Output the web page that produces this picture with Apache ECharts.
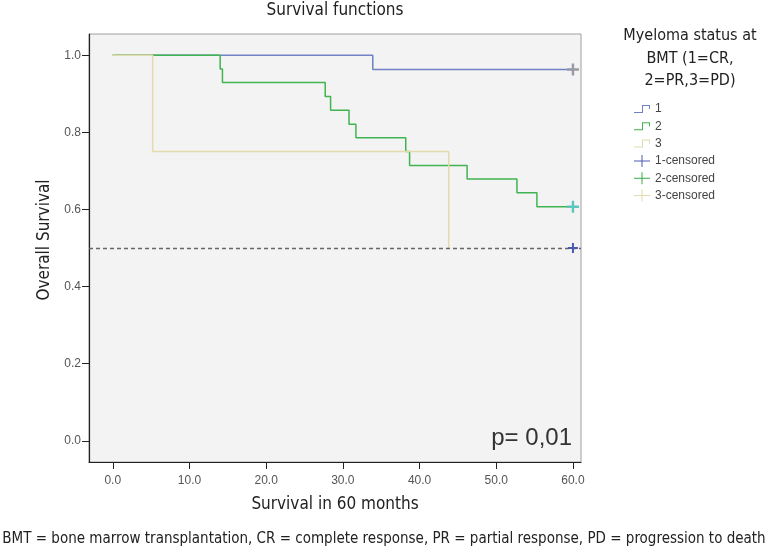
<!DOCTYPE html>
<html>
<head>
<meta charset="utf-8">
<script src="https://cdn.jsdelivr.net/npm/echarts@6/dist/echarts.min.js"></script>
<style>html,body{margin:0;padding:0;background:#fff}#c{width:768px;height:555px}</style>
</head>
<body>
<div id="c"></div>
<script>
// Kaplan-Meier step data (time in months, survival)
const g1Times = [0, 33.9, 60];
const g1Surv  = [1, 0.963, 0.963];
const g2Times = [0, 14.0, 14.3, 27.7, 28.4, 30.8, 31.7, 38.2, 38.7, 46.2, 52.7, 55.3, 60];
const g2Surv  = [1, 0.964, 0.929, 0.893, 0.857, 0.821, 0.786, 0.75, 0.714, 0.679, 0.643, 0.607, 0.607];
const g3Times = [0, 5.2, 43.8];
const g3Surv  = [1, 0.75, 0.5];
const cens1 = [[60, 0.963], [60, 0.5]];
const cens2 = [[60, 0.607]];
const cens3 = [];
const xTicks = [0, 10, 20, 30, 40, 50, 60];
const yTicks = [0, 0.2, 0.4, 0.6, 0.8, 1.0];
const refLevel = 0.5;

const zip = (t, s) => t.map((v, i) => [v, s[i]]);
const FONT = '"Liberation Sans Narrow","DejaVu Sans Condensed","Roboto",sans-serif';
const cross = 'path://M4,0H6V4H10V6H6V10H4V6H0V4H4Z';
const stepIcon = 'path://M0,7H8V0H16V4H15V1H9V8H0Z';
const crossIcon = 'path://M0,5.5H7.5V0H8.5V5.5H16V6.5H8.5V12H7.5V6.5H0Z';

const chart = echarts.init(document.getElementById('c'));
chart.setOption({
  animation: false,
  grid: { left: 89, right: 187, top: 34, bottom: 93, show: true, backgroundColor: '#f3f3f3', borderColor: '#a0a0a0', borderWidth: 1 },
  xAxis: {
    type: 'value', min: -3.1, max: 61.05,
    axisLine: { show: true, onZero: false, lineStyle: { color: '#222', width: 1.2 } },
    axisTick: { show: true, inside: false, length: 7, customValues: xTicks, lineStyle: { color: '#222' } },
    axisLabel: { customValues: xTicks, formatter: v => v.toFixed(1), color: '#555', fontSize: 12, margin: 13, fontFamily: 'Liberation Sans, Arial' },
    splitLine: { show: false }
  },
  yAxis: {
    type: 'value', min: -0.055, max: 1.055,
    axisLine: { show: true, onZero: false, lineStyle: { color: '#222', width: 1.2 } },
    axisTick: { show: true, inside: false, length: 7, customValues: yTicks, lineStyle: { color: '#222' } },
    axisLabel: { customValues: yTicks, formatter: v => v.toFixed(1), color: '#555', fontSize: 12, margin: 8, fontFamily: 'Liberation Sans, Arial' },
    splitLine: { show: false }
  },
  legend: {
    orient: 'vertical', left: 634, top: 103, padding: 0, itemWidth: 16, itemHeight: 12, itemGap: 5.3,
    textStyle: { color: '#444', fontSize: 12, fontFamily: 'Liberation Sans, Arial' },
    data: [
      { name: '1', icon: stepIcon }, { name: '2', icon: stepIcon }, { name: '3', icon: stepIcon },
      { name: '1-censored', icon: crossIcon }, { name: '2-censored', icon: crossIcon }, { name: '3-censored', icon: crossIcon }
    ]
  },
  series: [
    { name: '1', type: 'line', step: 'end', data: zip(g1Times, g1Surv), showSymbol: false, symbol: 'none',
      color: '#7082c4', lineStyle: { color: '#7082c4', width: 1.5 }, z: 2 },
    { name: '2', type: 'line', step: 'end', data: zip(g2Times, g2Surv), showSymbol: false, symbol: 'none',
      color: '#40b450', lineStyle: { color: '#40b450', width: 1.5 }, z: 3,
      markLine: { silent: true, symbol: 'none', label: { show: false }, lineStyle: { color: '#666', type: [4, 3], width: 1.3 }, data: [{ yAxis: refLevel }] } },
    { name: '3', type: 'line', step: 'end', data: zip(g3Times, g3Surv), showSymbol: false, symbol: 'none',
      color: '#e2dcaa', lineStyle: { color: '#e2dcaa', width: 1.5 }, z: 4 },
    { name: '1-censored', type: 'scatter', symbol: cross, symbolSize: 12, color: '#4a5ab0', itemStyle: { opacity: 1 }, z: 5,
      data: [{ value: cens1[0], itemStyle: { color: '#9a9aa6' } }, { value: cens1[1], symbolSize: 10, itemStyle: { color: '#4a5ab0' } }] },
    { name: '2-censored', type: 'scatter', symbol: cross, symbolSize: 12, color: '#3aaa4a', itemStyle: { opacity: 1 }, z: 5,
      data: cens2.map(p => ({ value: p, itemStyle: { color: '#5cc6bc' } })) },
    { name: '3-censored', type: 'scatter', symbol: cross, symbolSize: 12, color: '#e2dcaa', itemStyle: { opacity: 1 }, z: 5, data: cens3 }
  ],
  graphic: [
    { type: 'text', x: 335, y: 11, style: { text: 'Survival functions', align: 'center', verticalAlign: 'middle', fontSize: 17, fill: '#222', fontFamily: FONT } },
    { type: 'text', x: 690, y: 25, style: { text: 'Myeloma status at\nBMT (1=CR,\n2=PR,3=PD)', align: 'center', fontSize: 16, lineHeight: 22.5, fill: '#222', fontFamily: FONT } },
    { type: 'text', x: 45, y: 240, rotation: Math.PI / 2, style: { text: 'Overall Survival', align: 'center', verticalAlign: 'middle', fontSize: 17, fill: '#222', fontFamily: FONT } },
    { type: 'text', x: 335, y: 505, style: { text: 'Survival in 60 months', align: 'center', verticalAlign: 'middle', fontSize: 17, fill: '#222', fontFamily: FONT } },
    { type: 'text', x: 384, y: 539, style: { text: 'BMT = bone marrow transplantation, CR = complete response, PR = partial response, PD = progression to death', align: 'center', verticalAlign: 'middle', fontSize: 15, fill: '#222', fontFamily: FONT } },
    { type: 'text', x: 572, y: 438, style: { text: 'p= 0,01', align: 'right', verticalAlign: 'middle', fontSize: 24, fill: '#333', fontFamily: 'Liberation Sans, Arial' } }
  ]
});
</script>
</body>
</html>
